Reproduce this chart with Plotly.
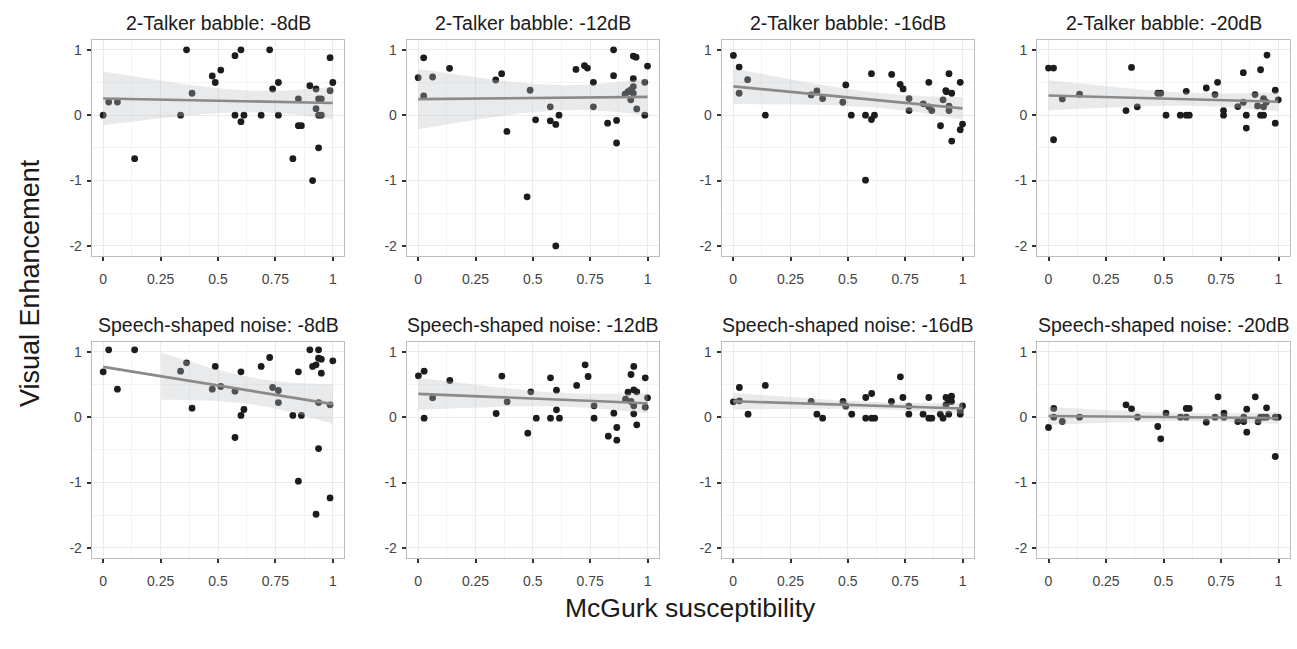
import numpy as np
import plotly.graph_objects as go

# ---------------- data ----------------
panel_titles = ["2-Talker babble: -8dB", "2-Talker babble: -12dB", "2-Talker babble: -16dB", "2-Talker babble: -20dB",
                "Speech-shaped noise: -8dB", "Speech-shaped noise: -12dB", "Speech-shaped noise: -16dB", "Speech-shaped noise: -20dB"]

tb8_x = [0, 0.024, 0.062, 0.137, 0.337, 0.363, 0.387, 0.475, 0.488, 0.512, 0.574, 0.574, 0.6, 0.6, 0.613, 0.688, 0.725, 0.738,
         0.763, 0.763, 0.826, 0.85, 0.85, 0.863, 0.9, 0.912, 0.927, 0.927, 0.938, 0.95, 0.938, 0.938, 0.95, 0.988, 0.988, 1.0]
tb8_y = [0, 0.2, 0.2, -0.665, 0, 1, 0.335, 0.6, 0.5, 0.69, 0.91, 0, 1, -0.1, 0, 0, 1, 0.4,
         0.5, 0, -0.665, 0.25, -0.16, -0.16, 0.45, -1, 0.4, 0.1, 0.25, 0.25, -0.5, 0, 0, 0.88, 0.375, 0.5]

tb12_x = [0, 0.024, 0.024, 0.063, 0.137, 0.338, 0.364, 0.387, 0.475, 0.488, 0.512, 0.576, 0.576, 0.6, 0.6, 0.614, 0.688, 0.725, 0.738,
          0.764, 0.764, 0.826, 0.852, 0.852, 0.865, 0.865, 0.902, 0.915, 0.927, 0.938, 0.95, 0.938, 0.938, 0.938, 0.927, 0.953, 0.988, 0.988, 1.0]
tb12_y = [0.574, 0.878, 0.294, 0.584, 0.716, 0.538, 0.635, -0.249, -1.249, 0.381, -0.071, 0.127, -0.086, -2.0, -0.142, 0, 0.7, 0.756, 0.721,
          0.503, 0.127, -0.122, 1.0, 0.604, -0.081, -0.426, 0.32, 0.36, 0.234, 0.904, 0.888, 0.558, 0.437, 0.335, 0.386, 0.096, 0.503, 0, 0.751]

tb16_x = [0.001, 0.026, 0.026, 0.063, 0.14, 0.34, 0.365, 0.39, 0.478, 0.491, 0.515, 0.577, 0.577, 0.603, 0.603, 0.616, 0.691, 0.728, 0.741,
          0.767, 0.767, 0.829, 0.853, 0.853, 0.866, 0.904, 0.915, 0.927, 0.93, 0.941, 0.941, 0.941, 0.953, 0.953, 0.99, 0.99, 1.0]
tb16_y = [0.914, 0.736, 0.335, 0.543, 0, 0.31, 0.371, 0.254, 0.198, 0.462, 0, 0, -0.995, 0.635, -0.066, 0, 0.624, 0.472, 0.401,
          0.254, 0.071, 0.173, 0.503, 0.127, 0.071, -0.162, 0.234, 0.376, 0.36, 0.635, 0.137, 0.071, 0.335, -0.396, 0.503, -0.223, -0.137]

tb20_x = [0, 0.022, 0.022, 0.06, 0.135, 0.337, 0.361, 0.386, 0.475, 0.488, 0.511, 0.573, 0.599, 0.599, 0.612, 0.686, 0.724, 0.735,
          0.761, 0.761, 0.823, 0.847, 0.847, 0.86, 0.86, 0.898, 0.909, 0.922, 0.922, 0.935, 0.935, 0.935, 0.947, 0.95, 0.986, 0.986, 0.999]
tb20_y = [0.721, 0.721, -0.376, 0.249, 0.32, 0.071, 0.731, 0.127, 0.335, 0.335, 0, 0, 0.365, 0, 0, 0.416, 0.315, 0.503,
          0.071, 0, 0.132, 0.65, 0.198, 0, -0.198, 0.315, 0.142, 0.695, 0, 0, 0.254, 0.127, 0.198, 0.919, 0.381, -0.122, 0.234]

ssn8_x = [0, 0.024, 0.062, 0.137, 0.337, 0.363, 0.387, 0.475, 0.488, 0.512, 0.574, 0.574, 0.6, 0.6, 0.613, 0.688, 0.725, 0.738,
          0.763, 0.763, 0.826, 0.85, 0.85, 0.863, 0.9, 0.912, 0.927, 0.927, 0.938, 0.938, 0.95, 0.938, 0.938, 0.95, 0.988, 0.988, 1.0]
ssn8_y = [0.694, 1.03, 0.429, 1.03, 0.704, 0.832, 0.138, 0.429, 0.776, 0.469, 0.398, -0.311, 0.694, 0.026, 0.117, 0.776, 0.913, 0.454,
          0.408, 0.224, 0.026, 0.694, -0.98, 0.026, 1.03, 0.776, 0.801, -1.485, 1.03, 0.903, 0.888, 0.224, -0.48, 0.673, 0.189, -1.235, 0.862]

ssn12_x = [0.001, 0.026, 0.026, 0.063, 0.138, 0.34, 0.365, 0.388, 0.478, 0.491, 0.515, 0.577, 0.577, 0.603, 0.603, 0.616, 0.691, 0.728, 0.741,
           0.767, 0.767, 0.829, 0.853, 0.866, 0.866, 0.904, 0.915, 0.928, 0.928, 0.94, 0.94, 0.953, 0.94, 0.94, 0.953, 0.99, 0.99, 1.0]
ssn12_y = [0.633, 0.704, -0.015, 0.296, 0.561, 0.056, 0.628, 0.235, -0.245, 0.388, -0.015, 0.602, -0.015, 0.413, 0.112, -0.015, 0.485, 0.801, 0.622,
           0.173, -0.015, -0.291, 0.061, -0.158, -0.352, 0.276, 0.383, 0.653, 0.24, 0.776, 0.418, 0.388, 0.173, 0.051, -0.117, 0.602, 0.153, 0.296]

ssn16_x = [0.001, 0.027, 0.027, 0.065, 0.14, 0.34, 0.365, 0.39, 0.479, 0.491, 0.517, 0.578, 0.578, 0.604, 0.604, 0.617, 0.69, 0.729, 0.74,
           0.766, 0.766, 0.828, 0.853, 0.853, 0.866, 0.903, 0.915, 0.928, 0.928, 0.94, 0.94, 0.952, 0.952, 0.99, 0.99, 1.0]
ssn16_y = [0.235, 0.454, 0.25, 0.046, 0.485, 0.24, 0.046, -0.015, 0.24, 0.168, 0.046, 0.301, -0.015, 0.362, -0.015, -0.015, 0.24, 0.617, 0.301,
           0.168, 0.046, 0.046, 0.301, -0.015, -0.015, 0.046, -0.015, 0.301, 0.189, 0.24, 0.046, 0.321, 0.24, 0.107, 0.046, 0.173]

ssn20_x = [0, 0.023, 0.023, 0.06, 0.135, 0.337, 0.361, 0.387, 0.475, 0.488, 0.511, 0.574, 0.599, 0.612, 0.599, 0.686, 0.724, 0.737,
           0.763, 0.763, 0.823, 0.849, 0.849, 0.862, 0.862, 0.899, 0.911, 0.922, 0.935, 0.948, 0.948, 0.986, 0.986, 0.999]
ssn20_y = [-0.158, 0.133, 0, -0.066, 0, 0.189, 0.128, 0, -0.143, -0.332, 0.061, 0, 0.133, 0.133, 0, -0.077, 0, 0.311,
           0.061, 0, -0.066, -0.066, 0, 0.122, -0.23, 0.311, -0.071, 0, 0, 0.143, 0, -0.602, 0, 0]

panel_x = [tb8_x, tb12_x, tb16_x, tb20_x, ssn8_x, ssn12_x, ssn16_x, ssn20_x]
panel_y = [tb8_y, tb12_y, tb16_y, tb20_y, ssn8_y, ssn12_y, ssn16_y, ssn20_y]

x_tickvals = [0, 0.25, 0.5, 0.75, 1]
x_ticktext = ["0", "0.25", "0.5", "0.75", "1"]
y_tickvals = [-2, -1, 0, 1]
y_ticktext = ["-2", "-1", "0", "1"]
y_limits = [-2, 1]

# ---------------- helpers ----------------
def t975(df):
    z = 1.959963985
    g1 = (z**3 + z) / 4
    g2 = (5*z**5 + 16*z**3 + 3*z) / 96
    g3 = (3*z**7 + 19*z**5 + 17*z**3 - 15*z) / 384
    return z + g1/df + g2/df**2 + g3/df**3

def lm_fit(x, y, npts=80):
    x = np.asarray(x, float); y = np.asarray(y, float)
    n = len(x)
    b, a = np.polyfit(x, y, 1)
    res = y - (a + b*x)
    s = np.sqrt(np.sum(res**2) / (n - 2))
    xb = x.mean(); sxx = np.sum((x - xb)**2)
    xs = np.linspace(x.min(), x.max(), npts)
    fit = a + b*xs
    se = s*np.sqrt(1/n + (xs - xb)**2/sxx)
    t = t975(n - 2)
    return xs, fit, fit - t*se, fit + t*se

# ---------------- layout geometry ----------------
W, H = 1297, 649
col_px = [(91.7, 344.3), (406.7, 659.0), (721.7, 974.0), (1037.0, 1290.0)]
row_px = [(40.0, 255.7), (342.0, 557.7)]

fig = go.Figure()
font_fam = "Liberation Sans, Arial, sans-serif"

for i in range(8):
    r, c = divmod(i, 4)
    k = i + 1
    xa = "x" if k == 1 else f"x{k}"
    ya = "y" if k == 1 else f"y{k}"
    xs, fit, lo, hi = lm_fit(panel_x[i], panel_y[i])

    fig.add_trace(go.Scatter(x=panel_x[i], y=panel_y[i], mode="markers",
                             marker=dict(color="#1c1c1c", size=6.8, line=dict(width=0)),
                             xaxis=xa, yaxis=ya, showlegend=False, hoverinfo="x+y"))
    # ribbon (censored where outside limits, like ggplot scale limits)
    ok = (hi <= y_limits[1]) & (lo >= y_limits[0])
    if ok.any():
        rx = np.concatenate([xs[ok], xs[ok][::-1]])
        ry = np.concatenate([hi[ok], lo[ok][::-1]])
        fig.add_trace(go.Scatter(x=rx, y=ry, mode="lines", fill="toself",
                                 fillcolor="rgba(185,190,196,0.33)", line=dict(width=0),
                                 xaxis=xa, yaxis=ya, showlegend=False, hoverinfo="skip"))
    fig.add_trace(go.Scatter(x=xs, y=fit, mode="lines", line=dict(color="#8a8a8a", width=2.6),
                             xaxis=xa, yaxis=ya, showlegend=False, hoverinfo="skip"))

    x0, x1 = col_px[c]
    y0, y1 = row_px[r]
    axis_common = dict(showline=True, mirror=True, linecolor="#bdbdbd", linewidth=1,
                       ticks="outside", ticklen=4, tickwidth=1.5, tickcolor="#333333",
                       gridcolor="#ebebeb", gridwidth=1, zeroline=False,
                       tickfont=dict(family=font_fam, size=14, color="#444444"))
    fig.layout[("xaxis" if k == 1 else f"xaxis{k}")] = dict(
        domain=[x0/W, x1/W], anchor=ya, range=[-0.05, 1.05],
        tickvals=x_tickvals, ticktext=x_ticktext, ticklabelstandoff=6,
        minor=dict(tickvals=[0.125, 0.375, 0.625, 0.875], showgrid=True, gridcolor="#f4f4f4", gridwidth=1, ticks=""),
        **axis_common)
    fig.layout[("yaxis" if k == 1 else f"yaxis{k}")] = dict(
        domain=[1 - y1/H, 1 - y0/H], anchor=xa, range=[-2.15, 1.15],
        tickvals=y_tickvals, ticktext=y_ticktext, ticklabelstandoff=2,
        minor=dict(tickvals=[-1.5, -0.5, 0.5], showgrid=True, gridcolor="#f4f4f4", gridwidth=1, ticks=""),
        **axis_common)
    cx = (x0 + x1) / 2
    fig.add_annotation(text=panel_titles[i], xref="paper", yref="paper",
                       x=cx/W, y=1 - (y0 - 5)/H, xanchor="center", yanchor="bottom",
                       showarrow=False, borderpad=0,
                       font=dict(family=font_fam, size=19.5, color="#1a1a1a"))

fig.add_annotation(text="Visual Enhancement", xref="paper", yref="paper", x=30/W, y=1 - 283/H,
                   textangle=-90, showarrow=False, xanchor="center", yanchor="middle",
                   font=dict(family=font_fam, size=27, color="#1a1a1a"))
fig.add_annotation(text="McGurk susceptibility", xref="paper", yref="paper", x=690/W, y=1 - 608/H,
                   showarrow=False, xanchor="center", yanchor="middle",
                   font=dict(family=font_fam, size=26.5, color="#1a1a1a"))

fig.update_layout(width=W, height=H, margin=dict(l=0, r=0, t=0, b=0),
                  paper_bgcolor="white", plot_bgcolor="white", showlegend=False)

fig.write_html("out.html", config={"displayModeBar": False},
               post_script="document.body.style.margin='0px';document.body.style.overflow='hidden';")
